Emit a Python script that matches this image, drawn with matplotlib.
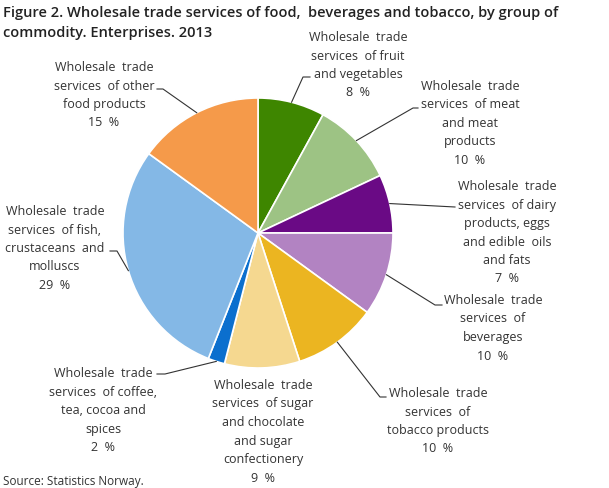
import numpy as np
import matplotlib.pyplot as plt

# shares by group of commodity, clockwise from 12 o'clock
groups = ["fruit", "meat", "dairy", "beverages", "tobacco",
          "sugar", "coffee", "fish", "other"]
shares = [8, 10, 7, 10, 10, 9, 2, 29, 15]
colors = ["#3e8600", "#9dc384", "#6a0a85", "#b283c2", "#ebb521",
          "#f5d890", "#0b6fce", "#84b8e6", "#f59a4a"]
label_lines = [
    ["Wholesale  trade", "services  of fruit", "and vegetables"],
    ["Wholesale  trade", "services  of meat", "and meat", "products"],
    ["Wholesale  trade", "services  of dairy", "products, eggs", "and edible  oils", "and fats"],
    ["Wholesale  trade", "services  of", "beverages"],
    ["Wholesale  trade", "services  of", "tobacco products"],
    ["Wholesale  trade", "services  of sugar", "and chocolate", "and sugar", "confectionery"],
    ["Wholesale  trade", "services  of coffee,", "tea, cocoa and", "spices"],
    ["Wholesale  trade", "services  of fish,", "crustaceans  and", "molluscs"],
    ["Wholesale  trade", "services  of other", "food products"],
]

W, H = 609, 488
fig = plt.figure(figsize=(W / 100, H / 100), dpi=100)
ax = fig.add_axes([0, 0, 1, 1])
ax.set_xlim(0, W)
ax.set_ylim(0, H)
ax.axis("off")

def py(y):
    return H - y

cx, cy, r = 258, 233, 135
wedges, _ = ax.pie(shares, colors=colors, startangle=90, counterclock=False,
                   center=(cx, py(cy)), radius=r,
                   wedgeprops=dict(edgecolor="white", linewidth=1.2))
ax.set_xlim(0, W)
ax.set_ylim(0, H)
ax.set_aspect("equal")

# label layout: text centre x, first line y, elbow point, end of leader
layout = {
    "fruit":     (358, 36, (303, 77), (310, 77)),
    "meat":      (470, 85, (413, 108), (418, 108)),
    "dairy":     (507, 185, None, (455, 207)),
    "beverages": (493, 299, (435, 305), (442, 305)),
    "tobacco":   (438, 392, (380, 397), (386, 397)),
    "sugar":     (263, 384, None, None),
    "coffee":    (103, 372, (165, 374), (157, 374)),
    "fish":      (55, 210, (117, 251), (110, 251)),
    "other":     (104, 66, (163, 89), (157, 89)),
}
step = 18.5
tcol = "#333333"
font = "Open Sans"

for w, g, s, lines in zip(wedges, groups, shares, label_lines):
    tx, ty, elbow, end = layout[g]
    for i, line in enumerate(lines + [f"{s}  %"]):
        ax.text(tx, py(ty + i * step), line, ha="center", va="center_baseline",
                fontsize=9, color=tcol, family=font)
    if end is None:
        continue
    ang = np.deg2rad((w.theta1 + w.theta2) / 2)
    x0 = cx + r * np.cos(ang)
    y0 = py(cy) + r * np.sin(ang)
    xs, ys = [x0], [y0]
    if elbow is not None:
        xs.append(elbow[0]); ys.append(py(elbow[1]))
    xs.append(end[0]); ys.append(py(end[1]))
    ax.plot(xs, ys, color="#333333", linewidth=0.8)

ax.text(3, py(12), "Figure 2. Wholesale trade services of food,  beverages and tobacco, by group of",
        ha="left", va="center_baseline", fontsize=10.5, fontweight="semibold",
        color="#222222", family=font)
ax.text(3, py(32), "commodity. Enterprises. 2013",
        ha="left", va="center_baseline", fontsize=10.5, fontweight="semibold",
        color="#222222", family=font)
ax.text(3, py(480), "Source: Statistics Norway.", ha="left", va="center_baseline",
        fontsize=8.5, color=tcol, family=font)

fig.savefig("out.png", dpi=100)
